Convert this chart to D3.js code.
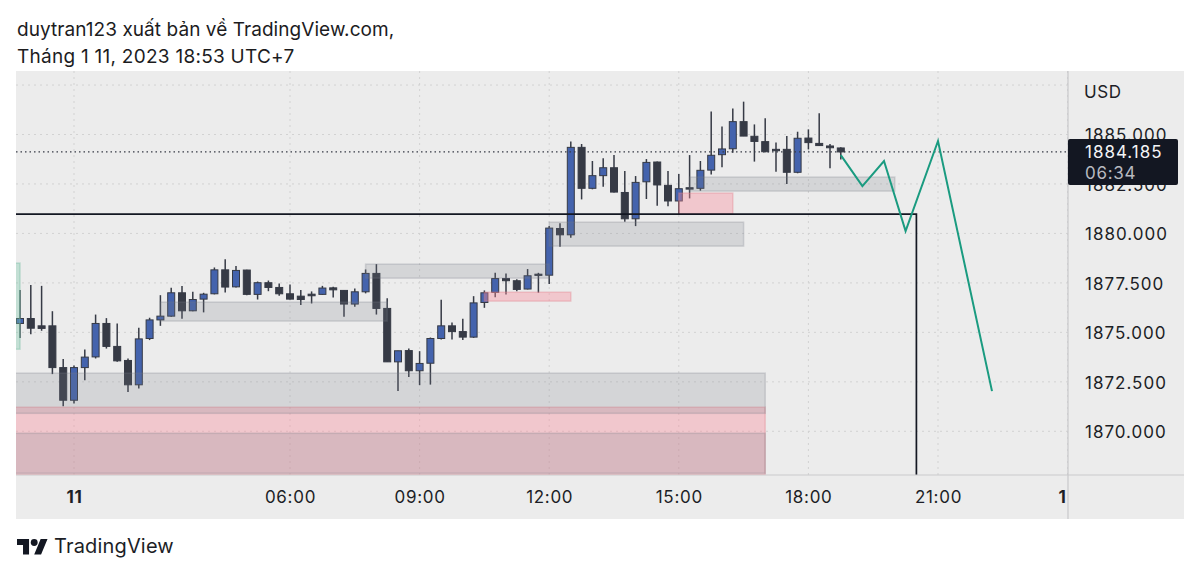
<!DOCTYPE html>
<html>
<head>
<meta charset="utf-8">
<script src="https://cdn.jsdelivr.net/npm/d3@7"></script>
<style>
  html, body { margin: 0; padding: 0; background: #fff; }
  svg { display: block; }
  text { font-family: Inter, "Noto Sans", sans-serif; }
</style>
</head>
<body>
<div id="chart"></div>
<script>
// 15 minute bars, first one is 10 Jan 23:45, hours counted from 11 Jan 00:00
const firstBarHour = -0.25;
const barStep = 0.25;

const opens = [1875.45,1875.70,1875.33,1875.33,1873.22,1871.57,1873.22,1873.76,1875.45,1874.29,
  1873.58,1872.35,1874.69,1875.63,1875.82,1877.00,1876.09,1876.68,1876.95,1878.16,
  1877.30,1878.15,1876.92,1877.51,1877.27,1876.95,1876.83,1876.93,1876.92,1877.25,
  1877.12,1876.43,1877.05,1877.98,1876.21,1873.51,1874.08,1873.06,1873.44,1874.69,
  1875.33,1875.04,1874.76,1876.51,1877.02,1877.72,1877.61,1877.19,1877.94,1877.89,
  1880.25,1879.93,1884.35,1882.28,1882.92,1883.32,1882.07,1880.74,1882.61,1883.61,
  1882.43,1881.64,1882.31,1882.28,1883.20,1883.98,1884.28,1885.65,1884.91,1884.64,
  1884.25,1884.25,1883.09,1884.82,1884.55,1884.42,1884.32];
const highs = [1877.14,1877.39,1877.35,1876.07,1873.66,1873.32,1874.13,1875.90,1875.72,1875.45,
  1873.68,1875.23,1875.74,1876.88,1877.25,1877.34,1877.05,1877.00,1878.28,1878.70,
  1878.35,1878.16,1877.57,1877.62,1877.47,1877.42,1877.14,1877.07,1877.35,1877.30,
  1877.13,1877.22,1878.18,1878.45,1876.73,1874.07,1874.18,1874.05,1874.74,1876.65,
  1875.50,1875.69,1876.83,1877.12,1878.01,1877.98,1877.69,1878.20,1878.01,1880.37,
  1880.51,1884.64,1884.52,1883.66,1883.80,1883.96,1883.15,1882.90,1883.76,1883.63,
  1883.15,1883.00,1883.96,1883.66,1886.16,1885.40,1886.32,1886.66,1885.51,1885.82,
  1884.60,1884.92,1885.14,1885.26,1886.07,1884.52,1884.35];
const lows = [1874.72,1874.91,1875.08,1872.89,1871.27,1871.40,1872.58,1873.68,1874.18,1873.51,
  1871.99,1872.16,1874.61,1875.33,1875.79,1875.69,1876.07,1876.01,1876.92,1877.02,
  1877.27,1876.87,1876.66,1877.08,1876.85,1876.66,1876.38,1876.46,1876.90,1876.76,
  1875.79,1876.29,1876.97,1875.90,1873.51,1872.04,1872.75,1872.33,1872.36,1874.64,
  1874.64,1874.62,1874.72,1876.24,1876.78,1876.92,1877.08,1877.17,1877.00,1877.44,
  1879.33,1879.78,1881.72,1882.23,1882.36,1882.07,1880.59,1880.37,1881.74,1881.40,
  1881.38,1880.98,1881.77,1882.16,1882.98,1883.34,1884.08,1884.92,1883.63,1884.10,
  1883.12,1882.50,1883.04,1884.25,1884.42,1883.29,1883.74];
const closes = [1875.70,1875.21,1875.20,1873.22,1871.57,1873.22,1873.75,1875.45,1874.29,1873.56,
  1872.35,1874.67,1875.63,1875.82,1877.00,1876.09,1876.66,1876.93,1878.16,1877.29,
  1878.13,1876.92,1877.51,1877.27,1876.95,1876.68,1876.66,1876.85,1877.24,1877.15,
  1876.43,1877.05,1877.98,1876.21,1873.51,1874.07,1873.06,1873.43,1874.69,1875.33,
  1875.04,1874.76,1876.49,1877.00,1877.72,1877.61,1877.17,1877.86,1877.88,1880.27,
  1879.93,1884.35,1882.28,1882.92,1883.32,1882.09,1880.74,1882.58,1883.59,1882.45,
  1881.64,1882.26,1882.24,1883.19,1883.95,1884.27,1885.65,1884.92,1884.65,1884.13,
  1884.18,1883.09,1884.81,1884.59,1884.44,1884.33,1884.12];

// drawn boxes: hour start, hour end, price top, price bottom
const grayZones = [
  [-1, 17, 1872.94, 1870.91],
  [-1, 17, 1869.90, 1867.88],
  [3, 8.25, 1876.53, 1875.57],
  [7.75, 12, 1878.45, 1877.74],
  [12, 16.5, 1880.57, 1879.36],
  [15.25, 20, 1882.85, 1882.14]
];
const pinkZones = [
  [-1, 17, 1871.22, 1867.80],
  [10.5, 12.5, 1877.03, 1876.58],
  [15, 16.25, 1882.04, 1880.98]
];
const tealZones = [[-1, -0.25, 1878.50, 1874.15]];

const forecastHours = [18.75, 19.25, 19.75, 20.25, 21, 22.25];
const forecastPrices = [1883.96, 1882.39, 1883.66, 1880.12, 1884.67, 1872.03];

const targetLineHour = 20.5;
const targetLinePrice = 1880.98;

const priceTicks = [1870, 1872.5, 1875, 1877.5, 1880, 1882.5, 1885, 1887.5];
const hourTicks = [1, 6, 9, 12, 15, 18, 21, 24];
const hourLabels = ["11", "06:00", "09:00", "12:00", "15:00", "18:00", "21:00", "12"];

const lastPriceLabel = "1884.185";
const countdownLabel = "06:34";

const width = 1200, height = 576;
const plot = { left: 16, right: 1068, top: 71, bottom: 475, axisBottom: 519, panelRight: 1184 };

const svg = d3.select("#chart").append("svg")
  .attr("width", width)
  .attr("height", height);

const x = d3.scaleLinear().domain([6, 21]).range([290, 938]);
const y = d3.scaleLinear().domain([1885, 1870]).range([134.5, 431.3]);

svg.append("defs").append("clipPath").attr("id", "plotClip").append("rect")
  .attr("x", plot.left).attr("y", plot.top)
  .attr("width", plot.right - plot.left).attr("height", plot.bottom - plot.top);
// the day label at the right edge is cut off just after its first digit
svg.select("defs").append("clipPath").attr("id", "timeClip").append("rect")
  .attr("x", plot.left).attr("y", plot.bottom)
  .attr("width", plot.right - plot.left - 2).attr("height", plot.axisBottom - plot.bottom);

// Title
svg.append("text").attr("x", 17).attr("y", 36)
  .attr("font-size", 19).attr("letter-spacing", 0.06).attr("fill", "#1c1c1e")
  .text("duytran123 xuất bản về TradingView.com,");
svg.append("text").attr("x", 17).attr("y", 63)
  .attr("font-size", 19).attr("letter-spacing", 0.26).attr("fill", "#1c1c1e")
  .text("Tháng 1 11, 2023 18:53 UTC+7");

// Panel background
svg.append("rect")
  .attr("x", plot.left).attr("y", plot.top)
  .attr("width", plot.panelRight - plot.left).attr("height", plot.axisBottom - plot.top)
  .attr("fill", "#ececec");

const chart = svg.append("g").attr("clip-path", "url(#plotClip)");

// Grid
chart.selectAll("line.hgrid").data(priceTicks).join("line")
  .attr("class", "hgrid")
  .attr("x1", plot.left).attr("x2", plot.right)
  .attr("y1", d => y(d)).attr("y2", d => y(d))
  .attr("stroke", "#d2d2d2").attr("stroke-width", 1).attr("stroke-dasharray", "2 4");
chart.selectAll("line.vgrid").data(hourTicks).join("line")
  .attr("class", "vgrid")
  .attr("x1", d => x(d)).attr("x2", d => x(d))
  .attr("y1", plot.top).attr("y2", plot.bottom)
  .attr("stroke", "#d2d2d2").attr("stroke-width", 1).attr("stroke-dasharray", "2 4");

// Candles
const bars = opens.map((o, i) => ({
  hour: firstBarHour + i * barStep, open: o, high: highs[i], low: lows[i], close: closes[i]
}));
const bodyWidth = 7;
const candle = chart.selectAll("g.candle").data(bars).join("g").attr("class", "candle");
candle.append("line")
  .attr("x1", d => x(d.hour)).attr("x2", d => x(d.hour))
  .attr("y1", d => y(d.high)).attr("y2", d => y(d.low))
  .attr("stroke", "#363a45").attr("stroke-width", 1.5);
candle.append("rect")
  .attr("x", d => x(d.hour) - bodyWidth / 2)
  .attr("width", bodyWidth)
  .attr("y", d => y(Math.max(d.open, d.close)))
  .attr("height", d => Math.max(1, Math.abs(y(d.open) - y(d.close))))
  .attr("fill", d => d.close >= d.open ? "#4463ad" : "#363a45")
  .attr("stroke", "#363a45").attr("stroke-width", 1);

// Boxes
function drawZones(zones, fill, stroke) {
  chart.append("g").selectAll("rect").data(zones).join("rect")
    .attr("x", d => x(d[0]))
    .attr("width", d => x(d[1]) - x(d[0]))
    .attr("y", d => y(d[2]))
    .attr("height", d => y(d[3]) - y(d[2]))
    .attr("fill", fill)
    .attr("stroke", stroke).attr("stroke-width", 1.5);
}
drawZones(pinkZones, "rgba(250,140,155,0.38)", "rgba(225,130,140,0.35)");
drawZones(grayZones, "rgba(120,123,134,0.2)", "rgba(120,123,134,0.25)");
drawZones(tealZones, "rgba(120,200,170,0.35)", "rgba(120,190,165,0.4)");

// Last price dotted line
const lastClose = closes[closes.length - 1];
chart.append("line")
  .attr("x1", plot.left).attr("x2", plot.right)
  .attr("y1", y(lastClose)).attr("y2", y(lastClose))
  .attr("stroke", "#363a45").attr("stroke-width", 1.2).attr("stroke-dasharray", "1.5 3");

// Black target lines
chart.append("path")
  .attr("d", d3.line()([
    [x(-1), y(targetLinePrice)],
    [x(targetLineHour), y(targetLinePrice)],
    [x(targetLineHour), plot.bottom]
  ]))
  .attr("fill", "none").attr("stroke", "#131722").attr("stroke-width", 1.7);

// Forecast line
const forecastLine = d3.line().x(d => x(d[0])).y(d => y(d[1]));
chart.append("path")
  .attr("d", forecastLine(forecastHours.map((h, i) => [h, forecastPrices[i]])))
  .attr("fill", "none").attr("stroke", "#1a9b80").attr("stroke-width", 2);

// Price axis
const priceAxis = svg.append("g")
  .attr("transform", `translate(${plot.right},1)`)
  .call(d3.axisRight(y).tickValues(priceTicks.slice(0, 7)).tickSize(0).tickPadding(17).tickFormat(d3.format(".3f")));
priceAxis.select(".domain").remove();
priceAxis.selectAll("text")
  .attr("font-size", 17).attr("letter-spacing", 1).attr("fill", "#1c1e26")
  .style("font-family", "Inter, sans-serif");

svg.append("text").attr("x", 1084).attr("y", 98)
  .attr("font-size", 17).attr("letter-spacing", 0.6).attr("fill", "#1c1e26").text("USD");

// Time axis
const timeAxis = svg.append("g")
  .attr("clip-path", "url(#timeClip)")
  .append("g")
  .attr("transform", `translate(0,${plot.bottom})`)
  .call(d3.axisBottom(x).tickValues(hourTicks).tickSize(0).tickPadding(16)
    .tickFormat((d, i) => hourLabels[i]));
timeAxis.select(".domain").remove();
timeAxis.selectAll("text")
  .attr("font-size", 17).attr("letter-spacing", 0.7).attr("fill", "#1c1e26")
  .attr("font-weight", (d, i) => hourLabels[i].length === 2 ? 700 : 400)
  .style("font-family", "Inter, sans-serif");

// Panel borders
svg.append("line")
  .attr("x1", plot.left).attr("x2", plot.panelRight)
  .attr("y1", plot.bottom).attr("y2", plot.bottom)
  .attr("stroke", "#c9c9cb").attr("stroke-width", 1.2);
svg.append("line")
  .attr("x1", plot.right).attr("x2", plot.right)
  .attr("y1", plot.top).attr("y2", plot.axisBottom)
  .attr("stroke", "#c9c9cb").attr("stroke-width", 1.2);

// Last price tag
svg.append("rect")
  .attr("x", plot.right).attr("y", 139)
  .attr("width", 110).attr("height", 46).attr("rx", 2)
  .attr("fill", "#131722");
svg.append("text").attr("x", 1085).attr("y", 158)
  .attr("font-size", 17).attr("letter-spacing", 1).attr("fill", "#f4f4f6").text(lastPriceLabel);
svg.append("text").attr("x", 1085).attr("y", 179)
  .attr("font-size", 17).attr("letter-spacing", 0.7).attr("fill", "#b8bac0").text(countdownLabel);

// Logo and footer
svg.append("g")
  .attr("transform", "translate(17,535.6) scale(0.86)")
  .attr("fill", "#131722")
  .call(g => {
    g.append("path").attr("d", "M14 22H7V11H0V4h14v18zM28 22h-8l7.5-18h8L28 22z");
    g.append("circle").attr("cx", 20).attr("cy", 8).attr("r", 4);
  });
svg.append("text").attr("x", 54).attr("y", 553)
  .attr("font-size", 20).attr("letter-spacing", 0.17).attr("fill", "#1c1e26").text("TradingView");
</script>
</body>
</html>
